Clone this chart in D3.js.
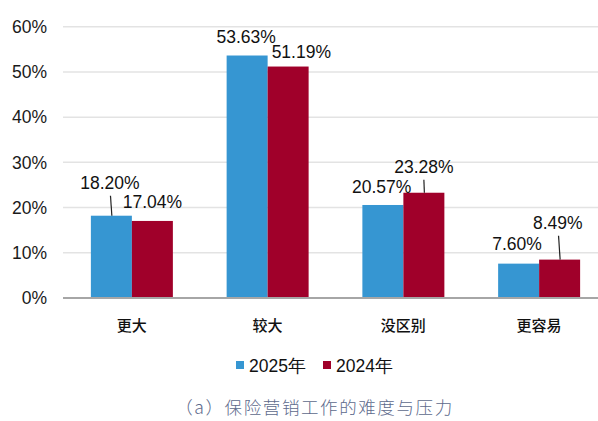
<!DOCTYPE html>
<html>
<head>
<meta charset="utf-8">
<script src="https://cdn.jsdelivr.net/npm/d3@7/dist/d3.min.js"></script>
<style>
  html, body { margin: 0; padding: 0; background: #fff; }
  svg { display: block; }
  .num { font-family: "Liberation Sans", Arial, Helvetica, sans-serif; }
  .cjk { font-family: "Noto Sans CJK SC", "Liberation Sans", sans-serif; }
</style>
</head>
<body>
<svg id="chart" width="598" height="421"></svg>
<script>
const categories = ['更大', '较大', '没区别', '更容易'];
const seriesNames = ['2025年', '2024年'];
const values2025 = [18.20, 53.63, 20.57, 7.60];
const values2024 = [17.04, 51.19, 23.28, 8.49];
const yTicks = [0, 10, 20, 30, 40, 50, 60];
const caption = '（a）保险营销工作的难度与压力';

const colors = ['#3696d2', '#a0002a'];

// hand-placed label nudges, same order as the bars: [dx, dy above bar top, leader?]
const labelNudge = [
  [[-1.5, -26.5, true], [0, -13.2, false]],
  [[-1, -12.7, false], [13.2, -8.7, false]],
  [[-1.2, -11.6, false], [0, -19.4, true]],
  [[-1.6, -13.6, false], [-1.8, -30.3, true]]
];

const svg = d3.select('#chart');
const plotTop = 26.7, plotBottom = 298, plotLeft = 64, plotRight = 607;

const y = d3.scaleLinear().domain([0, 60]).range([plotBottom, plotTop]);
const x0 = d3.scaleBand().domain(categories).range([plotLeft, plotRight])
  .paddingInner(0.396).paddingOuter(0.198);
const x1 = d3.scaleBand().domain(seriesNames).range([0, x0.bandwidth()]);

const rows = categories.map((c, i) => ({
  category: c,
  bars: [values2025[i], values2024[i]].map((v, j) => ({
    series: seriesNames[j], value: v, color: colors[j], nudge: labelNudge[i][j]
  }))
}));

// gridlines
svg.append('g')
  .selectAll('line')
  .data(yTicks.filter(t => t > 0))
  .join('line')
  .attr('x1', plotLeft - 1).attr('x2', 598)
  .attr('y1', d => y(d)).attr('y2', d => y(d))
  .attr('stroke', '#e3e3e3').attr('stroke-width', 1.5);

// y tick labels
svg.append('g')
  .selectAll('text')
  .data(yTicks)
  .join('text')
  .attr('class', 'num')
  .attr('x', 47)
  .attr('y', d => y(d) + 6.3)
  .attr('text-anchor', 'end')
  .attr('font-size', 17.5)
  .attr('fill', '#1a1a1a')
  .text(d => d + '%');

// bars
const groups = svg.append('g')
  .selectAll('g')
  .data(rows)
  .join('g')
  .attr('transform', d => `translate(${x0(d.category)},0)`);

groups.selectAll('rect')
  .data(d => d.bars)
  .join('rect')
  .attr('x', d => x1(d.series))
  .attr('y', d => y(d.value))
  .attr('width', x1.bandwidth())
  .attr('height', d => y(0) - y(d.value))
  .attr('fill', d => d.color);

// baseline
svg.append('line')
  .attr('x1', plotLeft - 1).attr('x2', 598)
  .attr('y1', y(0)).attr('y2', y(0))
  .attr('stroke', '#a6a6a6').attr('stroke-width', 2);

// value labels
const labels = groups.selectAll('g.lbl')
  .data(d => d.bars)
  .join('g')
  .attr('class', 'lbl');

labels.append('text')
  .attr('class', 'num')
  .attr('x', d => x1(d.series) + x1.bandwidth() / 2 + d.nudge[0])
  .attr('y', d => y(d.value) + d.nudge[1])
  .attr('text-anchor', 'middle')
  .attr('font-size', 17.5)
  .attr('fill', '#111')
  .text(d => d.value.toFixed(2) + '%');

labels.filter(d => d.nudge[2])
  .append('line')
  .attr('x1', d => x1(d.series) + x1.bandwidth() / 2 + d.nudge[0] * 0.6)
  .attr('y1', d => y(d.value) + d.nudge[1] + 6.5)
  .attr('x2', d => x1(d.series) + x1.bandwidth() / 2 + 0.5)
  .attr('y2', d => y(d.value))
  .attr('stroke', '#222').attr('stroke-width', 1.2);

// category labels
svg.append('g')
  .selectAll('text')
  .data(categories)
  .join('text')
  .attr('class', 'cjk')
  .attr('x', d => x0(d) + x0.bandwidth() / 2)
  .attr('y', 331)
  .attr('text-anchor', 'middle')
  .attr('font-size', 15)
  .attr('font-weight', 500)
  .attr('fill', '#111')
  .text(d => d);

// legend
const legendX = [236, 323];
const legend = svg.append('g')
  .selectAll('g')
  .data(seriesNames)
  .join('g')
  .attr('transform', (d, i) => `translate(${legendX[i]},361)`);
legend.append('rect')
  .attr('width', 8).attr('height', 8)
  .attr('fill', (d, i) => colors[i]);
legend.append('text')
  .attr('class', 'num')
  .attr('x', 13)
  .attr('y', 10.5)
  .attr('font-size', 17.5)
  .attr('fill', '#111')
  .text(d => d);

// caption
svg.append('text')
  .attr('class', 'cjk')
  .attr('x', 314.5)
  .attr('y', 413.5)
  .attr('text-anchor', 'middle')
  .attr('font-size', 17.5)
  .attr('font-weight', 300)
  .attr('letter-spacing', 1.6)
  .attr('fill', '#5d6a8c')
  .text(caption);
</script>
</body>
</html>
